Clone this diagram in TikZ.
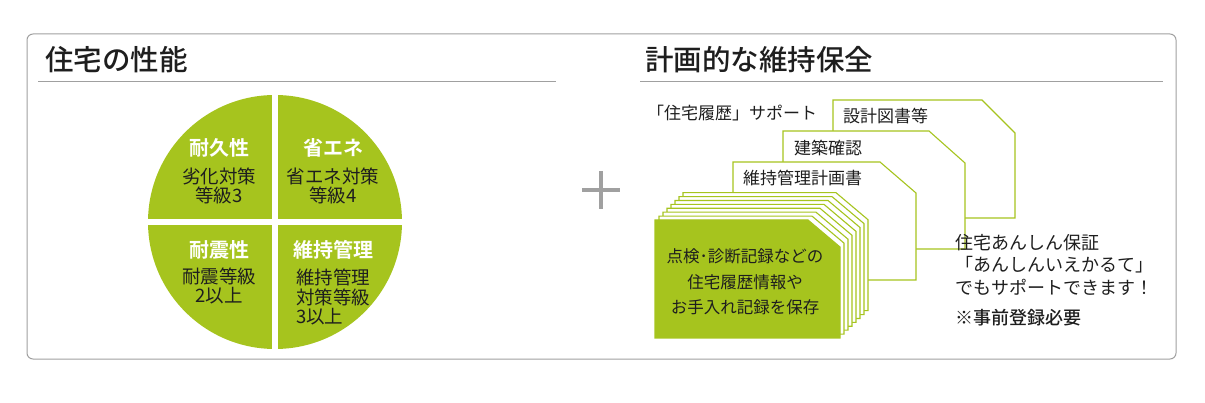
\documentclass[tikz,border=0pt]{standalone}
\usepackage{fontspec}
\setmainfont{Noto Sans CJK JP}[BoldFont={Noto Sans CJK JP Bold}]
\newfontfamily\mediumfont{Noto Sans CJK JP Medium}
\usepackage{tikz}
\usetikzlibrary{positioning, calc}
\definecolor{leafgreen}{RGB}{166, 196, 30}
\definecolor{framegray}{RGB}{160, 160, 160}
\definecolor{inkgray}{RGB}{30, 30, 30}

\begin{document}
\begin{tikzpicture}[
    x=1pt, y=-1pt,
    heading/.style={font=\fontsize{28.5pt}{30pt}\selectfont\mediumfont, text=inkgray, anchor=west, inner sep=0pt},
    rule/.style={draw=framegray, line width=1pt},
    piehead/.style={font=\fontsize{20pt}{22pt}\selectfont\bfseries, text=white, inner sep=0pt},
    piebody/.style={font=\fontsize{18.5pt}{19.5pt}\selectfont, text=inkgray, align=center, inner sep=0pt},
    sheet/.style={draw=leafgreen, line width=1.1pt, fill=white},
    sheettext/.style={font=\fontsize{17pt}{19pt}\selectfont, text=inkgray, anchor=west, inner sep=0pt},
    note/.style={font=\fontsize{18pt}{22.5pt}\selectfont, text=inkgray, anchor=west, align=left, inner sep=0pt}
]
    \useasboundingbox (0,0) rectangle (1205,403);

    % --- FRAME ---
    \draw[framegray, line width=1pt, rounded corners=6pt] (27,34) rectangle (1176,359);

    % --- LEFT: HOUSE PERFORMANCE ---
    \node[heading] (perftitle) at (45,60) {住宅の性能};
    \draw[rule] (38,82) -- (556,82);

    \begin{scope}
        \clip (275,222) circle [radius=127];
        \fill[leafgreen] (140,90) rectangle (272,219);
        \fill[leafgreen] (278,90) rectangle (410,219);
        \fill[leafgreen] (140,225) rectangle (272,355);
        \fill[leafgreen] (278,225) rectangle (410,355);
    \end{scope}

    \node[piehead] (durhead) at (219,148) {耐久性};
    \node[piebody] (durbody) at (219,186) {劣化対策\\等級3};
    \node[piehead] (enehead) at (333,148) {省エネ};
    \node[piebody] (enebody) at (333,186) {省エネ対策\\等級4};
    \node[piehead] (quakehead) at (219,250) {耐震性};
    \node[piebody] (quakebody) at (219,286) {耐震等級\\2以上};
    \node[piehead] (mainthead) at (333,250) {維持管理};
    \node[piebody, align=left, anchor=west] (maintbody) at (296,297) {維持管理\\対策等級\\3以上};

    % --- PLUS ---
    \draw[framegray, line width=3.5pt] (582,190) -- (620,190);
    \draw[framegray, line width=3.5pt] (601,171) -- (601,209);

    % --- RIGHT: PLANNED MAINTENANCE ---
    \node[heading] (plantitle) at (645,60) {計画的な維持保全};
    \draw[rule] (640,82) -- (1163,82);

    \node[sheettext] (support) at (647,113) {「住宅履歴」サポート};

    % back sheets
    \draw[sheet] (833,100) -- ++(149,0) -- ++(33,33) -- ++(0,85) -- ++(-182,0) -- cycle;
    \node[sheettext] (drawings) at (843,116) {設計図書等};
    \draw[sheet] (783,131) -- ++(146,0) -- ++(36,32) -- ++(0,86) -- ++(-182,0) -- cycle;
    \node[sheettext] (confirm) at (794,148) {建築確認};
    \draw[sheet] (733,162) -- ++(147,0) -- ++(36,31) -- ++(0,87) -- ++(-183,0) -- cycle;
    \node[sheettext] (plan) at (743,178) {維持管理計画書};

    % record stack
    \foreach \k in {7,6,...,1}
        \draw[sheet] ({655+4*\k},{220-3.9*\k}) -- ++(153,0) -- ++(32,27) -- ++(0,91) -- ++(-185,0) -- cycle;
    \draw[sheet, fill=leafgreen] (655,220) -- ++(153,0) -- ++(32,27) -- ++(0,91) -- ++(-185,0) -- cycle;
    \node[font=\fontsize{16.5pt}{25.5pt}\selectfont, text=inkgray, align=center, inner sep=0pt] (records) at (745,282)
        {点検･診断記録などの\\住宅履歴情報や\\お手入れ記録を保存};

    % --- GUARANTEE NOTE ---
    \node[note] (guarantee) at (955,264.5) {住宅あんしん保証\\「あんしんいえかるて」\\でもサポートできます！};
    \node[note, font=\fontsize{18pt}{22.5pt}\selectfont\mediumfont] (register) at (955,318) {※事前登録必要};

\end{tikzpicture}
\end{document}
